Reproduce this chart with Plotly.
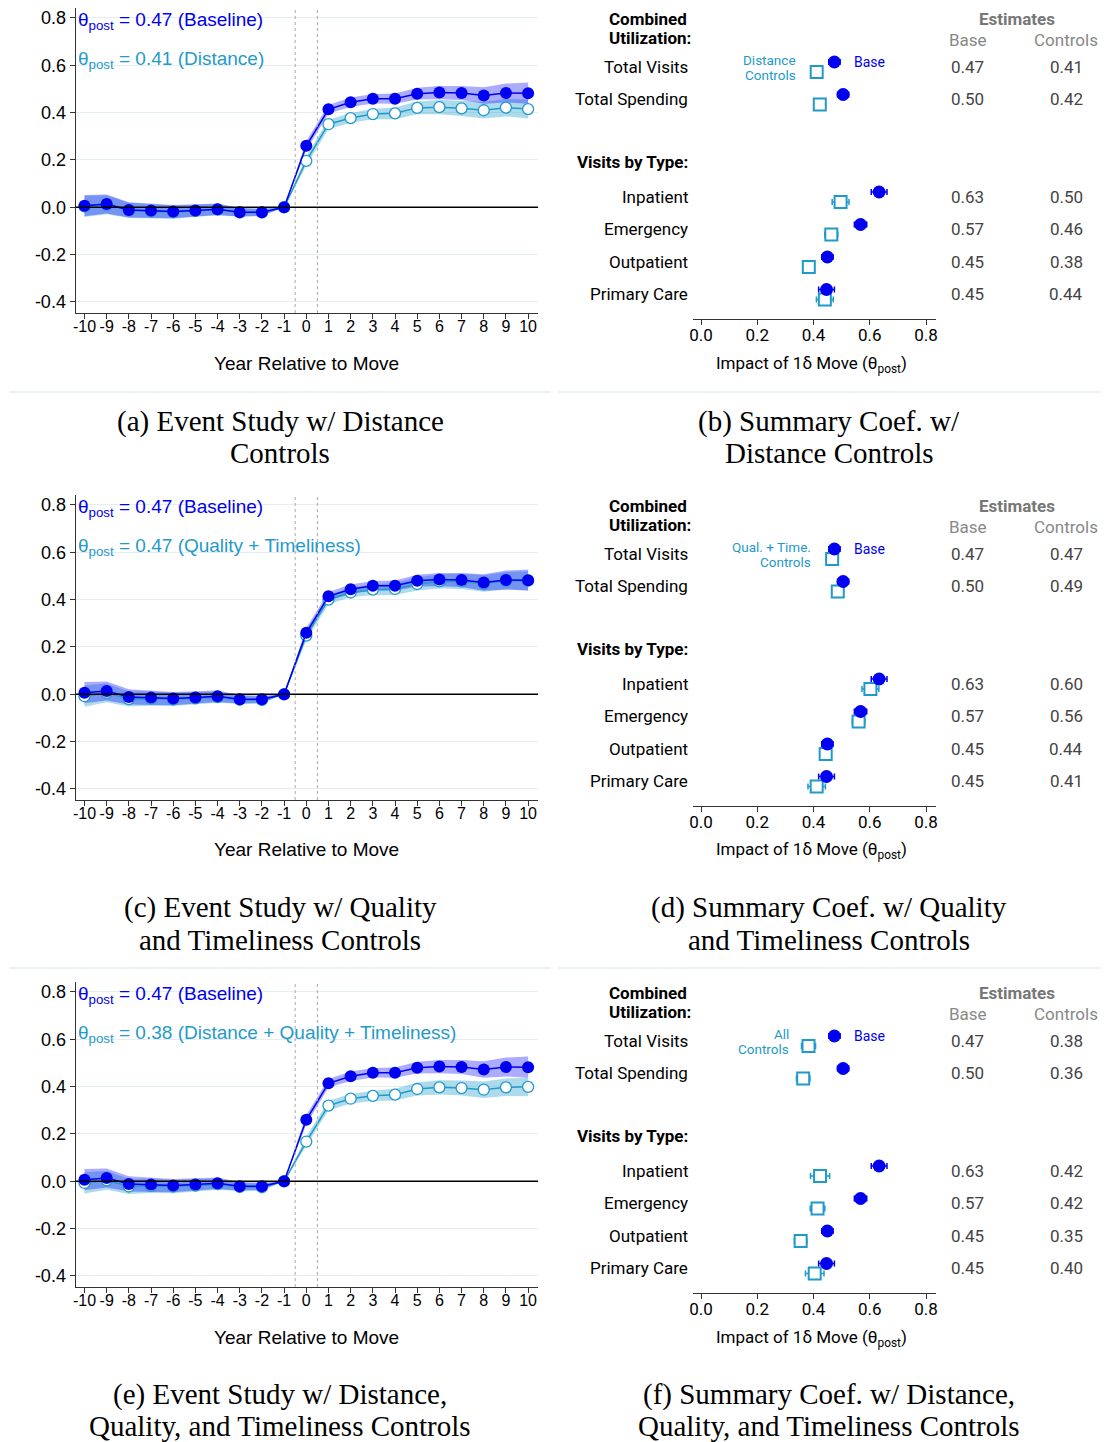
import plotly.graph_objects as go

W, H = 1105, 1442
def px(v): return v / W
def py(v): return 1 - v / H

# ---------------- data ----------------
years = list(range(-10, 11))
base_est = [0.007, 0.014, -0.011, -0.014, -0.018, -0.013, -0.008, -0.021, -0.021, 0.0,
            0.260, 0.414, 0.444, 0.459, 0.459, 0.480, 0.485, 0.483, 0.472, 0.483, 0.482]
base_ci = [0.045, 0.040, 0.032, 0.030, 0.028, 0.026, 0.024, 0.018, 0.015, 0.0,
           0.020, 0.018, 0.020, 0.020, 0.022, 0.025, 0.028, 0.030, 0.035, 0.040, 0.045]
dist_est = [0.004, 0.011, -0.013, -0.016, -0.020, -0.015, -0.010, -0.022, -0.022, 0.0,
            0.196, 0.351, 0.377, 0.394, 0.397, 0.420, 0.423, 0.418, 0.410, 0.421, 0.415]
qt_est = [-0.008, 0.006, -0.020, -0.018, -0.021, -0.017, -0.012, -0.023, -0.024, 0.0,
          0.248, 0.400, 0.430, 0.442, 0.445, 0.466, 0.477, 0.477, 0.468, 0.480, 0.480]
all_est = [-0.007, 0.004, -0.022, -0.019, -0.022, -0.018, -0.012, -0.024, -0.025, 0.0,
           0.168, 0.320, 0.349, 0.361, 0.366, 0.390, 0.397, 0.394, 0.387, 0.397, 0.399]
ctrl_ci = [0.045, 0.040, 0.032, 0.030, 0.028, 0.026, 0.024, 0.018, 0.015, 0.0,
           0.020, 0.020, 0.020, 0.022, 0.025, 0.027, 0.030, 0.032, 0.035, 0.037, 0.040]

y_ticks = [-0.4, -0.2, 0.0, 0.2, 0.4, 0.6, 0.8]

sum_cats = ["Total Visits", "Total Spending", "Inpatient", "Emergency", "Outpatient", "Primary Care"]
sum_base = [0.474, 0.505, 0.633, 0.567, 0.449, 0.446]
sum_base_ci = [0.020, 0.020, 0.028, 0.022, 0.020, 0.028]
sum_base_lbl = ["0.47", "0.50", "0.63", "0.57", "0.45", "0.45"]

dist_sum = [0.411, 0.422, 0.496, 0.463, 0.383, 0.440]
dist_sum_ci = [0.018, 0.018, 0.030, 0.023, 0.018, 0.030]
dist_sum_lbl = ["0.41", "0.42", "0.50", "0.46", "0.38", "0.44"]

qt_sum = [0.466, 0.486, 0.602, 0.560, 0.443, 0.411]
qt_sum_ci = [0.020, 0.020, 0.030, 0.022, 0.020, 0.031]
qt_sum_lbl = ["0.47", "0.49", "0.60", "0.56", "0.44", "0.41"]

all_sum = [0.382, 0.363, 0.423, 0.414, 0.354, 0.404]
all_sum_ci = [0.025, 0.024, 0.034, 0.026, 0.022, 0.033]
all_sum_lbl = ["0.38", "0.36", "0.42", "0.42", "0.35", "0.40"]

x_ticks_sum = [0.0, 0.2, 0.4, 0.6, 0.8]

# ---------------- styling ----------------
BLUE = "#0000f0"
TEAL = "#1f9ac9"
BLUE_BAND = "rgba(0,0,255,0.33)"
TEAL_BAND = "rgba(31,154,201,0.36)"
SANS = "Liberation Sans, Arial, sans-serif"
NARROW = "Roboto, Liberation Sans, sans-serif"
SERIF = "Liberation Serif, Times New Roman, serif"

row_of = {"Total Visits": 1, "Total Spending": 2, "Inpatient": 5, "Emergency": 6,
          "Outpatient": 7, "Primary Care": 8}
OFFS = [0, 487, 974]

fig = go.Figure()
layout = dict(width=W, height=H, margin=dict(l=0, r=0, t=0, b=0),
              paper_bgcolor="white", plot_bgcolor="white", showlegend=False)
annotations = []
shapes = []

def ann(text, x, y, size, color="black", family=SANS, xanchor="center", yref="paper", yv=None, align="center"):
    annotations.append(dict(text=text, x=px(x), xref="paper",
                            y=py(y) if yv is None else yv, yref=yref,
                            xanchor=xanchor, yanchor="middle", showarrow=False, align=align,
                            font=dict(size=size, color=color, family=family)))

event_panels = [
    (dist_est, "0.41 (Distance)"),
    (qt_est, "0.47 (Quality + Timeliness)"),
    (all_est, "0.38 (Distance + Quality + Timeliness)"),
]
sum_panels = [
    (dist_sum, dist_sum_ci, dist_sum_lbl, ["Distance", "Controls"], 798),
    (qt_sum, qt_sum_ci, qt_sum_lbl, ["Qual. + Time.", "Controls"], 813),
    (all_sum, all_sum_ci, all_sum_lbl, ["All", "Controls"], 791),
]

for i in range(3):
    off = OFFS[i]
    # ---------- event study (left) ----------
    k = 2 * i + 1
    xa, ya = f"x{k}" if k > 1 else "x", f"y{k}" if k > 1 else "y"
    xkey, ykey = f"xaxis{k}" if k > 1 else "xaxis", f"yaxis{k}" if k > 1 else "yaxis"
    ctrl, label = event_panels[i]

    for est, ci, band in [(ctrl, ctrl_ci, TEAL_BAND), (base_est, base_ci, BLUE_BAND)]:
        fig.add_trace(go.Scatter(x=years, y=[e + c for e, c in zip(est, ci)], mode="lines",
                                 line=dict(width=0), xaxis=xa, yaxis=ya, hoverinfo="skip"))
        fig.add_trace(go.Scatter(x=years, y=[e - c for e, c in zip(est, ci)], mode="lines",
                                 line=dict(width=0), fill="tonexty", fillcolor=band,
                                 xaxis=xa, yaxis=ya, hoverinfo="skip"))
    fig.add_trace(go.Scatter(x=years, y=ctrl, mode="lines+markers", xaxis=xa, yaxis=ya,
                             line=dict(color=TEAL, width=1.5),
                             marker=dict(symbol="circle", size=11, color="white",
                                         line=dict(color=TEAL, width=1.3))))
    fig.add_trace(go.Scatter(x=years, y=base_est, mode="lines+markers", xaxis=xa, yaxis=ya,
                             line=dict(color=BLUE, width=1.5),
                             marker=dict(symbol="circle", size=12, color=BLUE,
                                         line=dict(color=BLUE, width=0))))
    layout[xkey] = dict(domain=[px(72), px(537)], range=[-10.4, 10.45], anchor=ya,
                        tickvals=years, ticktext=[str(v) for v in years],
                        tickfont=dict(size=16, family=SANS, color="black"),
                        showline=True, linecolor="#333", linewidth=1.2, ticks="outside",
                        ticklen=5, tickcolor="#333", showgrid=False, zeroline=False,
                        ticklabelstandoff=-6)
    layout[ykey] = dict(domain=[py(313 + off), py(8 + off)], range=[-0.4465, 0.842], anchor=xa,
                        tickvals=y_ticks, ticktext=[f"{v:.1f}" for v in y_ticks],
                        tickfont=dict(size=18, family=SANS, color="black"),
                        showline=True, linecolor="#333", linewidth=1.2, ticks="outside",
                        ticklen=5, tickcolor="#333", showgrid=True, gridcolor="#e4eef0",
                        gridwidth=1, zeroline=False)
    shapes.append(dict(type="line", xref=f"{xa} domain", yref=ya, x0=0, x1=1, y0=0, y1=0,
                       line=dict(color="black", width=1.5)))
    for xv in (-0.5, 0.5):
        shapes.append(dict(type="line", xref=xa, yref=f"{ya} domain", x0=xv, x1=xv, y0=0, y1=1,
                           line=dict(color="#aaa", width=1, dash="dot")))
    ann("θ<sub>post</sub> = 0.47 (Baseline)", 72, 21 + off, 19, BLUE, xanchor="left")
    ann("θ<sub>post</sub> = " + label, 72, 60 + off, 19, TEAL, xanchor="left")
    ann("Year Relative to Move", 304, 363 + off, 19)

    # ---------- summary (right) ----------
    k = 2 * i + 2
    xa, ya = f"x{k}", f"y{k}"
    xkey, ykey = f"xaxis{k}", f"yaxis{k}"
    cvals, cci, clbl, leg, leg_x = sum_panels[i]
    rows = [row_of[c] for c in sum_cats]
    fig.add_trace(go.Scatter(x=cvals, y=[r + 0.154 for r in rows], mode="markers", xaxis=xa, yaxis=ya,
                             error_x=dict(type="data", array=cci, color=TEAL, thickness=1.5, width=3),
                             marker=dict(symbol="square", size=12, color="white",
                                         line=dict(color=TEAL, width=2))))
    fig.add_trace(go.Scatter(x=sum_base, y=[r - 0.154 for r in rows], mode="markers", xaxis=xa, yaxis=ya,
                             error_x=dict(type="data", array=sum_base_ci, color=BLUE, thickness=1.5, width=3),
                             marker=dict(symbol="circle", size=13, color=BLUE)))
    layout[xkey] = dict(domain=[px(693), px(937)], range=[-0.028, 0.835], anchor=ya,
                        tickvals=x_ticks_sum, ticktext=[f"{v:.1f}" for v in x_ticks_sum],
                        tickfont=dict(size=17, family=NARROW, color="black"),
                        showline=True, linecolor="#333", linewidth=1.2, ticks="outside",
                        ticklen=5, tickcolor="#333", showgrid=False, zeroline=False,
                        ticklabelstandoff=-5)
    layout[ykey] = dict(domain=[py(319 + off), py(8 + off)], range=[8.754, -0.815], anchor=xa,
                        visible=False)
    for c, r, bl, cl in zip(sum_cats, rows, sum_base_lbl, clbl):
        ann(c, 690, 0, 17, family=NARROW, xanchor="right", yref=ya, yv=r)
        ann(bl, 969, 0, 17, "#444", family=NARROW, yref=ya, yv=r)
        ann(cl, 1068, 0, 17, "#444", family=NARROW, yref=ya, yv=r)
    ann("<b>Combined</b>", 648, 19 + off, 17, family=NARROW)
    ann("<b>Utilization:</b>", 650, 38 + off, 17, family=NARROW)
    ann("<b>Visits by Type:</b>", 690, 162 + off, 17, family=NARROW, xanchor="right")
    ann("<b>Estimates</b>", 1019, 19 + off, 17, "#777", family=NARROW)
    ann("Base", 969, 40 + off, 17, "#888", family=NARROW)
    ann("Controls", 1068, 40 + off, 17, "#888", family=NARROW)
    ann("Base", 853, 62 + off, 14, BLUE, family=NARROW, xanchor="left")
    ann(leg[0], leg_x, 60 + off, 13.5, TEAL, family=NARROW, xanchor="right")
    ann(leg[1], leg_x, 75 + off, 13.5, TEAL, family=NARROW, xanchor="right")
    ann("Impact of 1δ Move (θ<sub>post</sub>)", 812, 364 + off, 17, family=NARROW)

# captions
captions = [
    ("(a) Event Study w/ Distance", "Controls", "(b) Summary Coef. w/", "Distance Controls"),
    ("(c) Event Study w/ Quality", "and Timeliness Controls", "(d) Summary Coef. w/ Quality", "and Timeliness Controls"),
    ("(e) Event Study w/ Distance,", "Quality, and Timeliness Controls", "(f) Summary Coef. w/ Distance,", "Quality, and Timeliness Controls"),
]
for i, (l1, l2, r1, r2) in enumerate(captions):
    y0 = 421 + 486.5 * i
    ann(l1, 278, y0, 29, family=SERIF)
    ann(l2, 278, y0 + 32, 29, family=SERIF)
    ann(r1, 830, y0, 29, family=SERIF)
    ann(r2, 830, y0 + 32, 29, family=SERIF)

for yy in (392, 968):
    shapes.append(dict(type="line", xref="paper", yref="paper", x0=px(5), x1=px(550), y0=py(yy), y1=py(yy),
                       line=dict(color="#e6eef0", width=1.5)))
    shapes.append(dict(type="line", xref="paper", yref="paper", x0=px(557), x1=px(1103), y0=py(yy), y1=py(yy),
                       line=dict(color="#e6eef0", width=1.5)))

layout["annotations"] = annotations
layout["shapes"] = shapes
fig.update_layout(**layout)
fig.write_html("out.html", config={"displayModeBar": False},
               post_script="document.body.style.margin='0px';document.body.style.overflow='hidden';")
